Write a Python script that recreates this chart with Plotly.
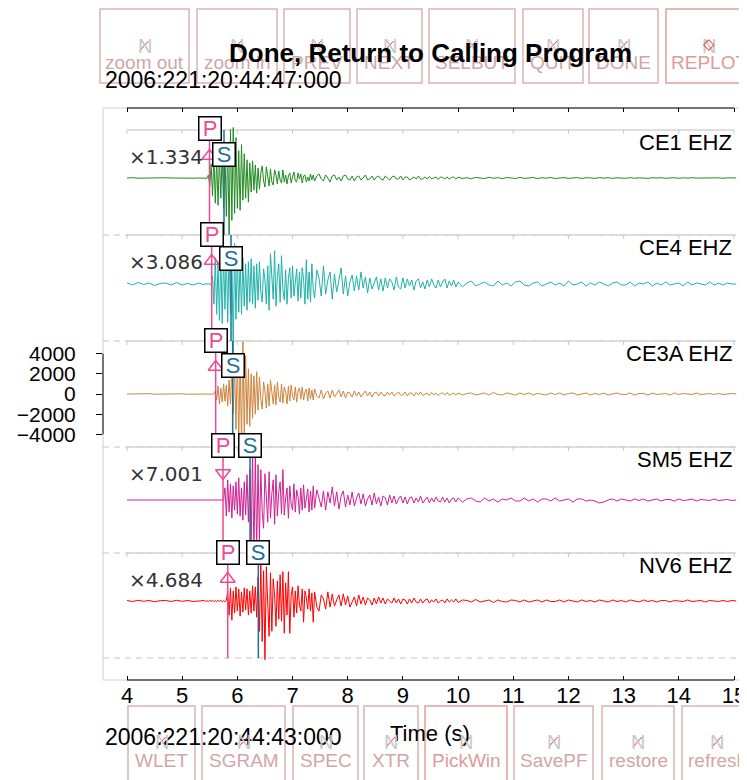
"""
RSEIS 風格多測站地震波形圖 (swig 視窗畫面重現)
"""
import numpy as np
import plotly.graph_objects as go

FONT = "Liberation Sans, Arial, Helvetica, sans-serif"

# -------------------------
# 資料
# -------------------------
stations = ["CE1 EHZ", "CE4 EHZ", "CE3A EHZ", "SM5 EHZ", "NV6 EHZ"]
trace_colors = ["#228B22", "#20B2AA", "#CD853F", "#D02090", "#FF0000"]
scale_labels = ["×1.334", "×3.086", "", "×7.001", "×4.684"]
p_picks = [5.495, 5.535, 5.607, 5.740, 5.825]
s_picks = [5.758, 5.885, 5.915, 6.230, 6.380]
p_polarity = ["up", "up", "up", "down", "up"]
x_ticks = [4, 5, 6, 7, 8, 9, 10, 11, 12, 13, 14, 15]
y_ticks_ce3a = [-4000, -2000, 0, 2000, 4000]
start_time = "2006:221:20:44:47:000"
ref_time = "2006:221:20:44:43:000"

# 取樣：前段 0.1 s、主震段 0.025 s、尾波 0.04 s、末段 0.08 s (單位：100 counts)
T_PRE, DT_PRE = 4.0, 0.1
T_FINE, DT_FINE = 5.4, 0.025
T_CODA, DT_CODA = 7.4, 0.04
T_TAIL, DT_TAIL = 10.0, 0.08

ce1_pre = [0, 0.3, -0.2, 0, 0.2, -0.3, 0, 0.2, 0, -0.2, 0.3, 0, -0.2, 0]
ce1_fine = [0, 0.2, -0.3, 3, -8, 14, -18, 22, -25, 19,
            -27, 24, -20, 26, -30, 28, -38, 34, -56, 48,
            -42, 50, -35, 40, -30, 27, -32, 33, -22, 24,
            -20, 18, -24, 15, -14, 17, -12, 13, -15, 10,
            -11, 5, 12, -3, -9, 11, 2, -8, 9, -4,
            -7, 8, 3, -6, 7, -2, -5, 8, -4, 3,
            -6, 2, 5, -5, 1, 6, -3, -4, 5, -1,
            4, -5, 2, 3, -4, 1, -3, 4, -2, 3]
ce1_coda = [-3, 2, 4, -1, -3, 3, 0, -4, 2, 3,
            -2, 1, -3, 2, 3, -1, -2, 2, -3, 1,
            2, -2, 0, 3, -2, -1, 2, -2, 1, 2,
            -1, -2, 2, 0, -2, 1, 2, -1, -1, 2,
            -2, 1, 1, -2, 0, 1, -1, 2, -1, -1,
            1, -1, 1.5, -1, 0, 1, -1.5, 1, 0.5, -1,
            1, -1, 0.5, 1, -1]
ce1_tail = [0.8, -0.5, 0.3, -0.8, 0.6, 0, -0.6, 0.7, -0.3, 0.4,
            -0.7, 0.5, 0.2, -0.5, 0.6, -0.4, 0, 0.5, -0.6, 0.3,
            -0.2, 0.5, -0.5, 0.2, 0.4, -0.4, 0, 0.4, -0.5, 0.3,
            0.1, -0.4, 0.4, -0.2, 0.3, -0.4, 0.2, 0, -0.3, 0.4,
            -0.3, 0.2, 0.1, -0.4, 0.3, -0.1, 0.3, -0.3, 0, 0.3,
            -0.3, 0.2, -0.2, 0.3, -0.1, -0.2, 0.3, -0.2, 0.1, 0.2,
            -0.3, 0.2, -0.1, 0]

ce4_pre = [1, -1, 1.5, -0.5, 1, -1.5, 0.5, 1, -1, 1.5, -1, 0.5, -1, 1]
ce4_fine = [-1, 1, -0.5, 1, -1, 0.5, 8, -20, 26, -30,
            22, -36, 30, -39, 28, -25, 32, -38, 34, -30,
            26, -70, 40, -35, 30, -28, 24, -30, 26, -22,
            20, -26, 22, -18, 25, -20, 18, -24, 20, -16,
            22, -8, -18, 15, 4, -20, 18, -26, 30, 10,
            -15, 33, -22, 8, 20, -18, 28, -5, -16, 14,
            -20, 6, 16, -14, 18, -12, 2, 15, -17, 12,
            -14, 16, 5, -20, 24, -15, 12, -18, 20, -6]
ce4_coda = [-14, 14, 6, -12, 18, -10, 4, 12, -15, 10,
            -8, 3, 16, -10, 8, -12, 2, 9, -7, 8,
            -6, 12, -4, 7, -9, 6, -5, 1, 7, -6,
            5, -7, 6, -4, 5, 2, -6, 7, -3, -5,
            6, -4, 5, -2, 4, -6, 3, 5, -4, 2,
            -5, 4, -3, 5, -1, -4, 4, -3, 2, 5,
            -4, 3, -2, 4, -3]
ce4_tail = [2, -3, 1, 3, -2, 0, 2, -1, -2, 3,
            -1, 1, -2, 2, 3, -1, -2, 1, 2, -2,
            0, 2, -1, 1, -2, 3, -1, 0, 2, -2,
            1, -1, 2, 0, -2, 1, 2, -1, -1, 2,
            -2, 1, 0, 2, -2, 1, -1, 2, -1, 0,
            1, -2, 2, -1, 1, 0, -1, 2, -1, 1,
            -1, 1, 0, 0]

ce3a_pre = [0, 0.2, -0.2, 0, 0.3, -0.2, 0, 0.2, -0.3, 0, 0.2, -0.2, 0, 0.2]
ce3a_fine = [0, -0.2, 0.2, 0, -0.2, 0.2, 0, -0.2, 3, -6,
             8, -10, 6, -8, 10, -7, 9, -12, 14, -10,
             28, -20, 30, -35, 40, -48, 35, -52, 52, -40,
             38, -30, 25, -32, 20, -24, 18, -20, 22, -16,
             17, -5, -15, 12, 3, -14, 10, -12, 14, 2,
             -10, 9, -11, 12, -3, -8, 10, -9, 7, 2,
             -10, 8, -7, 9, -2, -6, 7, -8, 3, 6,
             -5, 7, -6, 2, 5, -7, 6, -5, 4, -6]
ce3a_coda = [5, -2, -4, 4, -5, 1, 3, -4, 4, -3,
             0, 4, -3, 3, -4, 2, 1, -3, 3, -2,
             2, -3, 0, 3, -2, 2, -3, 1, 2, -2,
             2, -1, -2, 2, -1, 2, -2, 0, 2, -1,
             -1, 2, -2, 1, 1, -2, 1.5, -1, 2, -1.5,
             0, 1, -1.5, 1.5, -1, 1, -1.5, 0.5, 1, -1,
             1.5, -1, 0, 1, -1]
ce3a_tail = [1, -1, 0.5, 1, -1, 0, 1, -1, 1.5, -0.5,
             -1, 1, 0, -1, 1, -0.5, 1, -1, 0.5, 0,
             -1, 1, -0.5, 1, -1, 0.5, 1, -1, 0, 1,
             -1, 0.5, -0.5, 1, -1, 0, 1, -0.5, -0.5, 1,
             -1, 0.5, 0.5, -1, 1, -0.5, 0, 0.5, -1, 1,
             -0.5, 0.5, 0, -0.5, 1, -0.5, 0, 0.5, -0.5, 0.5,
             -0.5, 0, 0.5, 0]

sm5_pre = [0, 0, 0.2, -0.2, 0, 0.2, 0, -0.2, 0, 0.2, 0, -0.2, 0, 0]
sm5_fine = [0, 0.2, 0, -0.2, 0, 0.2, 0, 0, -0.2, 0,
            0.2, 0, -0.2, 0, 0, 12, -16, 20, -12, 16,
            -18, 14, -10, 18, -14, 22, -16, 12, -20, 18,
            -15, 25, -22, 30, -45, 48, -55, 44, -50, 35,
            -40, 30, -12, -28, 26, 4, -22, 28, -18, 6,
            20, -24, 25, -16, 8, 18, -14, 30, -15, 2,
            12, -18, 14, -4, -10, 16, -12, 10, 3, -14,
            12, -10, 15, -8, 2, 11, -12, 9, -10, 14]
sm5_coda = [-8, 10, 2, -7, 9, -10, 8, -3, 13, -6,
            8, -9, 4, 9, -7, 5, -5, 8, -6, 2,
            7, -4, 6, -6, 1, 5, -5, 7, -4, 3,
            -6, 4, 2, -5, 5, -3, 4, -4, 1, 4,
            -3, 3, -4, 2, 3, -3, 2, -2, 4, -3,
            0, 3, -3, 2, -2, 3, -1, -2, 3, -2,
            2, -3, 1, 2, -2]
sm5_tail = [2, -2, 1, 2, -1, -2, 2, -1, 1, -2,
            1, 0, 2, -1, -1, 2, -1, 1, -2, 1,
            1, -1, 2, -1, 0, 1, -2, 1, 1, -1,
            0, -1, -3, -2, 0, 1, -1, 1, 0, -1,
            1, -0.5, 1, -1, 0, 1, -1, 0.5, 0.5, -1,
            1, -0.5, 0, 1, -1, 0.5, 0, -0.5, 1, -0.5,
            0, 0.5, -0.5, 0]

nv6_pre = [0.5, -0.5, 0.7, -0.3, 0.5, -0.7, 0.3, 0.5, -0.5, 0.7, -0.3, 0.5, -0.5, 0.3]
nv6_fine = [0.5, -0.5, 0.3, -0.5, 0.5, -0.3, 0.5, -0.5, 0.3, -0.5,
            0.5, -0.3, 0.5, -0.5, 0.3, -0.5, 0.3, 10, -14, 13,
            -19, 10, -12, 14, -10, 12, -15, 9, -11, 13,
            -9, 12, -14, 10, -12, 15, -10, 14, -16, 24,
            -30, 36, -40, 30, -58, 34, -10, -35, 28, -30,
            22, 5, -25, 20, -18, 26, -20, 29, -32, 18,
            -14, 29, -32, 6, 14, -16, 10, -12, 15, -4,
            -10, 12, -21, 10, 3, -8, 12, -10, 8, -21]
nv6_coda = [9, -6, -10, 6, 2, -8, 9, -6, 7, -5,
            1, 6, -5, 7, -4, 5, -6, 0, 4, -5,
            6, -3, 4, -4, 3, 1, -4, 3, -3, 4,
            -2, 3, -3, 2, 0, -2, 3, -2, 2, -3,
            2, 1, -3, 2, -2, 3, -1, -2, 2, -2,
            1, 2, -2, 1, -1, 2, -2, 0, 1, -2,
            2, -1, 1, -1, 2]
nv6_tail = [-1.5, 1, 0.5, -1, 1.5, -1, 0, 1, -1.5, 1,
            -0.5, -1, 1, 0.5, -1, 1, -1, 0, 1, -1,
            1, -0.5, -0.5, 1, -1, 1, 0, -1, 1, -0.5,
            0.5, -1, 1, 0, -1, 1, -0.5, 0.5, -1, 1,
            0, -1, 1, -0.5, 0.5, -1, 0.5, 0.5, -1, 0.5,
            0, -0.5, 1, -0.5, 0, 0.5, -1, 0.5, 0, -0.5,
            0.5, -0.5, 0.5, 0]

waves = [(ce1_pre, ce1_fine, ce1_coda, ce1_tail),
         (ce4_pre, ce4_fine, ce4_coda, ce4_tail),
         (ce3a_pre, ce3a_fine, ce3a_coda, ce3a_tail),
         (sm5_pre, sm5_fine, sm5_coda, sm5_tail),
         (nv6_pre, nv6_fine, nv6_coda, nv6_tail)]

top_buttons = ["zoom out", "zoom in", "PREV", "NEXT", "SELBUT", "QUIT", "DONE", "REPLOT"]
bottom_buttons = ["WLET", "SGRAM", "SPEC", "XTR", "PickWin", "SavePF", "restore", "refresh"]

# -------------------------
# 版面 (參考圖像素；頁面 body 有 8px 邊距)
# -------------------------
OFF = 8
W, H = 747 - OFF, 780 - OFF
PL, PR, PT, PB = 103, 747, 108, 680
X0_PX, X1_PX = 127, 734          # 4 s 與 15 s 的位置
SLOT_TOP = [130, 235, 341, 447, 553]
SLOT_BOT = 658
BASE = [178, 284, 394, 500, 601]
CPP = 99                          # counts / pixel
TOP_EDGES = [(100, 189), (197, 277), (284, 350), (357, 422), (429, 515), (523, 583), (589, 658), (666, 752)]
BOT_EDGES = [(128, 195), (202, 285), (293, 358), (364, 418), (425, 507), (514, 593), (602, 674), (682, 752)]
P_COLOR, S_COLOR = "#EE4A92", "#1F6E96"


def fx(px):
    return (px - PL) / (PR - PL)


def fy(py):
    return (PB - py) / (PB - PT)


def txt(x, y, text, size, color="black", family=FONT, xanchor="center", xref="paper", **kw):
    d = dict(x=x, y=y, xref=xref, yref="paper", text=text, showarrow=False,
             xanchor=xanchor, yanchor="middle", font=dict(size=size, color=color, family=family))
    d.update(kw)
    return d


sec_px = (X1_PX - X0_PX) / (x_ticks[-1] - x_ticks[0])
x_range = [x_ticks[0] - (X0_PX - PL) / sec_px, x_ticks[-1] + (PR - X1_PX) / sec_px]

fig = go.Figure()
shapes, annotations = [], []

# 外框與分隔線
shapes.append(dict(type="rect", xref="paper", yref="paper", x0=0, x1=1, y0=0, y1=1,
                   line=dict(color="#d0d0d0", width=1), layer="below"))
for py in SLOT_TOP[1:] + [SLOT_BOT]:
    shapes.append(dict(type="line", xref="paper", yref="paper", x0=0, x1=1, y0=fy(py), y1=fy(py),
                       line=dict(color="#c4c4c4", width=1, dash="6px,5px"), layer="below"))
for py in SLOT_TOP:
    shapes.append(dict(type="line", xref="x", yref="paper", x0=x_ticks[0], x1=x_ticks[-1],
                       y0=fy(py), y1=fy(py), line=dict(color="#d3d3d3", width=1.5), layer="below"))
    for tv in x_ticks:
        shapes.append(dict(type="line", xref="x", yref="paper", x0=tv, x1=tv,
                           y0=fy(py), y1=fy(py + 4), line=dict(color="#c8c8c8", width=1), layer="below"))
# 上下黑色座標軸線
for yy in (0, 1):
    shapes.append(dict(type="line", xref="x", yref="paper", x0=x_ticks[0], x1=x_ticks[-1],
                       y0=yy, y1=yy, line=dict(color="black", width=1)))

# 波形
for i, (pre, fine, coda, tail) in enumerate(waves):
    t = np.concatenate([T_PRE + DT_PRE * np.arange(len(pre)),
                        T_FINE + DT_FINE * np.arange(len(fine)),
                        T_CODA + DT_CODA * np.arange(len(coda)),
                        T_TAIL + DT_TAIL * np.arange(len(tail))])
    v = np.array(pre + fine + coda + tail, dtype=float) * 100
    ax = "y" if i == 0 else f"y{i + 1}"
    fig.add_trace(go.Scatter(x=t, y=v, mode="lines", yaxis=ax, hoverinfo="skip",
                             line=dict(color=trace_colors[i], width=1), showlegend=False))

# 震相 P / S
for i in range(len(stations)):
    ax = "y" if i == 0 else f"y{i + 1}"
    bottom = SLOT_BOT if i == len(stations) - 1 else SLOT_TOP[i + 1]
    for tp, col in ((p_picks[i], P_COLOR), (s_picks[i], S_COLOR)):
        shapes.append(dict(type="line", xref="x", yref="paper", x0=tp, x1=tp,
                           y0=fy(bottom), y1=fy(SLOT_TOP[i]), line=dict(color=col, width=1.5)))
    sym = "triangle-up-open" if p_polarity[i] == "up" else "triangle-down-open"
    fig.add_trace(go.Scatter(x=[p_picks[i]], y=[(BASE[i] - SLOT_TOP[i] - 26) * CPP], yaxis=ax,
                             mode="markers", hoverinfo="skip", showlegend=False,
                             marker=dict(symbol=sym, size=13, color=P_COLOR,
                                         line=dict(width=1.5, color=P_COLOR))))
    s_shift = 25 if (s_picks[i] - p_picks[i]) * sec_px < 26 else 0
    for tp, lab, col, dy in ((p_picks[i], "P", P_COLOR, 0), (s_picks[i], "S", S_COLOR, s_shift)):
        annotations.append(txt(tp, fy(SLOT_TOP[i] - 1 + dy), lab, 22, col, xref="x",
                               bgcolor="white", bordercolor="black", borderwidth=1.5, borderpad=1,
                               width=19, height=20))
    annotations.append(txt(x_ticks[-1], fy(SLOT_TOP[i] + 12), stations[i], 22,
                           xref="x", xanchor="right"))
    if scale_labels[i]:
        annotations.append(txt(x_ticks[0], fy(SLOT_TOP[i] + 27), scale_labels[i], 20, "#333333",
                               family="DejaVu Sans", xref="x", xanchor="left"))

# CE3A 振幅軸線
shapes.append(dict(type="line", xref="paper", yref="y3", x0=0, x1=0,
                   y0=y_ticks_ce3a[0], y1=y_ticks_ce3a[-1], line=dict(color="black", width=1)))


def add_buttons(labels, edges, y0, y1, icon_y, text_y):
    for lab, (x0, x1) in zip(labels, edges):
        hot = lab in ("PickWin", "REPLOT")
        bcol = "#e4a0a0" if hot else "#d9b4b4"
        tcol = "#e09a9a" if hot else "#d2a6a6"
        cx = (x0 + x1) / 2
        shapes.append(dict(type="rect", xref="paper", yref="paper", x0=fx(x0), x1=fx(x1),
                           y0=fy(y1), y1=fy(y0), line=dict(color=bcol, width=1.5)))
        annotations.append(txt(fx(cx), fy(icon_y), "N", 20, "#c8c8c8"))
        if lab == "REPLOT":
            annotations.append(txt(fx(cx), fy(icon_y - 2), "◇", 15, "#ee3333", family="DejaVu Sans"))
        else:
            shapes.append(dict(type="line", xref="paper", yref="paper", x0=fx(cx - 5), x1=fx(cx + 4),
                               y0=fy(icon_y + 5), y1=fy(icon_y - 5), line=dict(color="#ee3333", width=1)))
        annotations.append(txt(fx(cx), fy(text_y), lab, 19, tcol))


add_buttons(top_buttons, TOP_EDGES, OFF + 1, 83, 46, 62)

annotations.append(txt(fx(430), fy(53), "<b>Done, Return to Calling Program</b>", 26))
annotations.append(txt(fx(103), fy(80), start_time, 23, xanchor="left"))
annotations.append(txt(fx(103), fy(737), ref_time, 23, xanchor="left"))
annotations.append(txt(fx(430), fy(733), "Time (s)", 22))

add_buttons(bottom_buttons, BOT_EDGES, 706, 795, 742, 760)

# 座標軸
layout_axes = {}
for i in range(len(stations)):
    key = "yaxis" if i == 0 else f"yaxis{i + 1}"
    rng = [-(PB - BASE[i]) * CPP, (BASE[i] - PT) * CPP]
    ax = dict(range=rng, visible=False, showgrid=False, zeroline=False, fixedrange=True)
    if i > 0:
        ax["overlaying"] = "y"
    if stations[i] == "CE3A EHZ":
        ax.update(visible=True, showline=False, ticks="outside", ticklen=6, tickwidth=1,
                  tickcolor="black", tickmode="array", tickvals=y_ticks_ce3a,
                  tickfont=dict(size=21, color="black", family=FONT), ticklabelstandoff=16, side="left")
    layout_axes[key] = ax

fig.update_layout(
    width=W, height=H,
    margin=dict(l=PL - OFF, r=W - (PR - OFF), t=PT - OFF, b=H - (PB - OFF)),
    paper_bgcolor="white", plot_bgcolor="rgba(0,0,0,0)",
    showlegend=False, hovermode=False,
    xaxis=dict(range=x_range, showgrid=False, zeroline=False, showline=False,
               ticks="inside", ticklen=4, tickwidth=1, tickcolor="black", mirror="ticks",
               tickmode="array", tickvals=x_ticks,
               tickfont=dict(size=22, color="black", family=FONT)),
    shapes=shapes, annotations=annotations,
    **layout_axes,
)

fig.write_html("out.html")
